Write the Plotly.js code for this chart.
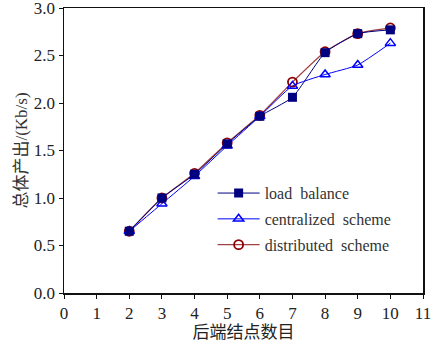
<!DOCTYPE html>
<html><head><meta charset="utf-8">
<script src="https://cdn.plot.ly/plotly-3.0.1.min.js"></script>
<style>html,body{margin:0;padding:0;background:#fff}</style>
</head><body><div id="chart" style="width:433px;height:345px"></div>
<script>
const nodes = [2, 3, 4, 5, 6, 7, 8, 9, 10];
const loadBalance = [0.65, 1.00, 1.25, 1.57, 1.86, 2.06, 2.53, 2.73, 2.77];
const centralized = [0.65, 0.94, 1.23, 1.55, 1.86, 2.18, 2.30, 2.40, 2.63];
const distributed = [0.65, 1.00, 1.26, 1.58, 1.87, 2.22, 2.54, 2.73, 2.79];
const seriesNames = ['load\u00a0\u00a0balance', 'centralized\u00a0\u00a0scheme', 'distributed\u00a0\u00a0scheme'];
const xTickLabels = ['0','1','2','3','4','5','6','7','8','9','10','11'];
const yTickLabels = ['0.0','0.5','1.0','1.5','2.0','2.5','3.0'];
const xTitle = '后端结点数目';
const yTitle = '总体产出/(Kb/s)';

const traces = [
  {x: nodes, y: distributed, name: seriesNames[2], legendgroup: 'c', legendrank: 3, mode: 'lines+markers',
   line: {color: '#a04040', width: 1.3, shape: 'spline', smoothing: 0.5},
   marker: {symbol: 'circle-open', size: 9, color: '#8b0000', line: {width: 1.8, color: '#8b0000'}}},
  {x: nodes, y: centralized, name: seriesNames[1], legendgroup: 'b', legendrank: 2, mode: 'lines+markers',
   line: {color: '#0000ff', width: 1, shape: 'spline', smoothing: 0.5},
   marker: {symbol: 'triangle-up-open', size: 9, color: '#0000ff', line: {width: 1.5, color: '#0000ff'}}},
  {x: nodes, y: loadBalance, name: seriesNames[0], legendgroup: 'a', legendrank: 1, mode: 'lines+markers',
   line: {color: '#000080', width: 1, shape: 'spline', smoothing: 0.5},
   marker: {symbol: 'square', size: 9, color: '#000080'}}
];

const fam = 'Times New Roman, Liberation Serif, DejaVu Serif, Noto Sans CJK SC, serif';
const tickFont = {family: 'Times New Roman, Liberation Serif, DejaVu Serif, serif', color: '#222', size: 17};

const layout = {
  width: 433, height: 345,
  margin: {l: 64, r: 10, t: 8, b: 52},
  paper_bgcolor: '#fff', plot_bgcolor: '#fff',
  font: {family: fam, color: '#222', size: 17},
  showlegend: true,
  legend: {x: 0.414, y: 0.41, xanchor: 'left', yanchor: 'top', bgcolor: 'rgba(0,0,0,0)',
           traceorder: 'grouped', tracegroupgap: 2, itemwidth: 42,
           font: {family: fam, size: 16, color: '#333'}},
  xaxis: {range: [0, 11], tickmode: 'array', tickvals: [0,1,2,3,4,5,6,7,8,9,10,11], ticktext: xTickLabels,
          tickfont: tickFont,
          showgrid: false, zeroline: false, showline: true, mirror: true, linecolor: '#111', linewidth: 1.5,
          ticks: 'outside', ticklen: 4, tickcolor: '#111', tickwidth: 1,
          title: {text: xTitle, font: {family: fam, size: 17, color: '#222'}, standoff: 2}},
  yaxis: {range: [0, 3], tickmode: 'array', tickvals: [0, 0.5, 1, 1.5, 2, 2.5, 3], ticktext: yTickLabels,
          tickfont: tickFont, ticklabeloverflow: 'allow',
          showgrid: false, zeroline: false, showline: true, mirror: true, linecolor: '#111', linewidth: 1.5,
          ticks: 'outside', ticklen: 4, tickcolor: '#111', tickwidth: 1,
          title: {text: yTitle, font: {family: fam, size: 17, color: '#333'}, standoff: 2}}
};

Plotly.newPlot('chart', traces, layout, {displayModeBar: false, staticPlot: true});
</script></body></html>
